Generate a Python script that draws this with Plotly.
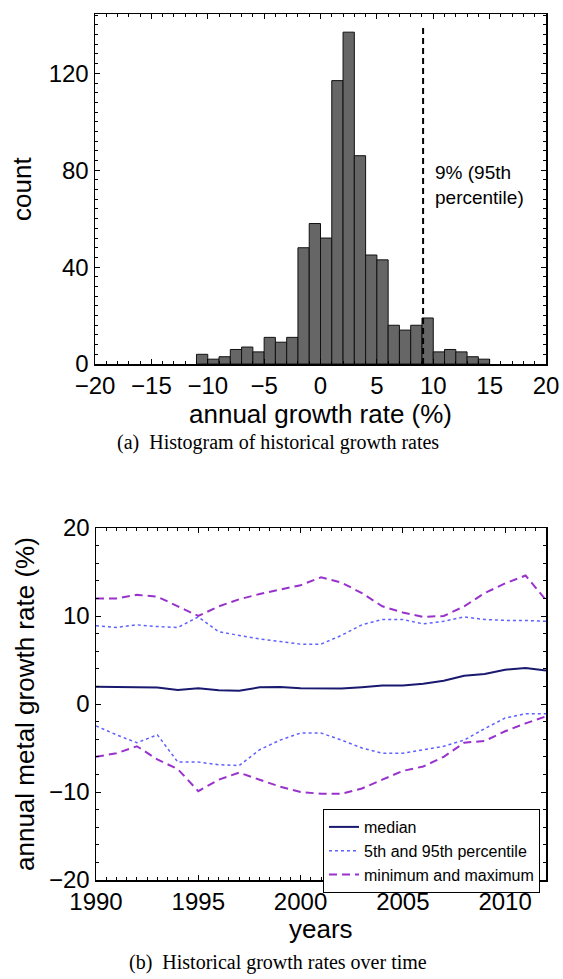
import plotly.graph_objects as go

# ---- histogram data (bins of width 1, from -11 to 15) ----
bin_centers = [-10.5, -9.5, -8.5, -7.5, -6.5, -5.5, -4.5, -3.5, -2.5, -1.5, -0.5, 0.5, 1.5,
               2.5, 3.5, 4.5, 5.5, 6.5, 7.5, 8.5, 9.5, 10.5, 11.5, 12.5, 13.5, 14.5]
counts = [4, 2, 3, 6, 7, 5, 11, 9, 11, 48, 58, 52, 117,
          137, 86, 45, 43, 16, 14, 16, 19, 5, 6, 5, 3, 2]
p95_value = 9.1
p95_line_top = 140

# ---- growth rates over time ----
years = list(range(1990, 2013))
median = [1.97, 1.94, 1.9, 1.88, 1.6, 1.8, 1.55, 1.5, 1.9, 1.94, 1.8, 1.8, 1.75,
          1.9, 2.1, 2.1, 2.3, 2.65, 3.2, 3.4, 3.9, 4.1, 3.8]
p95 = [8.9, 8.7, 9.0, 8.8, 8.7, 9.9, 8.2, 7.8, 7.4, 7.1, 6.8, 6.8, 7.8,
       9.0, 9.6, 9.6, 9.1, 9.4, 9.9, 9.6, 9.5, 9.5, 9.4]
p5 = [-2.5, -3.5, -4.4, -3.5, -6.6, -6.6, -6.9, -7.0, -5.2, -4.1, -3.3, -3.3, -4.1,
      -5.0, -5.6, -5.6, -5.2, -4.8, -4.1, -2.8, -1.6, -1.1, -1.1]
maxv = [12.0, 12.0, 12.4, 12.2, 11.1, 10.0, 11.1, 11.9, 12.5, 13.0, 13.5, 14.4, 13.8,
        12.6, 11.1, 10.4, 9.9, 10.0, 11.1, 12.6, 13.7, 14.6, 11.8]
minv = [-6.0, -5.6, -4.8, -6.3, -7.4, -9.9, -8.6, -7.8, -8.6, -9.4, -10.0, -10.2, -10.2,
        -9.6, -8.6, -7.6, -7.1, -6.0, -4.4, -4.2, -3.1, -2.2, -1.4]

W, H = 563, 979
SANS = "Liberation Sans, Arial, sans-serif"
SERIF = "Liberation Serif, Times New Roman, serif"

def px_x(p):
    return p / W

def px_y(p):
    return 1 - p / H

fig = go.Figure()

fig.add_trace(go.Bar(x=bin_centers, y=counts, width=1.0,
                     marker=dict(color="#666666", line=dict(color="#111111", width=1)),
                     showlegend=False, xaxis="x", yaxis="y", hoverinfo="skip"))
fig.add_trace(go.Scatter(x=[p95_value, p95_value], y=[0, p95_line_top], mode="lines",
                         line=dict(color="black", width=2, dash="6px,4px"),
                         showlegend=False, xaxis="x", yaxis="y", hoverinfo="skip"))

purple = "#9932CC"
dotblue = "#6060FF"
navy = "#191970"

fig.add_trace(go.Scatter(x=years, y=median, mode="lines", name="median",
                         line=dict(color=navy, width=2), xaxis="x2", yaxis="y2"))
fig.add_trace(go.Scatter(x=years, y=p95, mode="lines", name="5th and 95th percentile",
                         legendgroup="pct", line=dict(color=dotblue, width=1.5, dash="dot"),
                         xaxis="x2", yaxis="y2"))
fig.add_trace(go.Scatter(x=years, y=p5, mode="lines", name="5th and 95th percentile",
                         legendgroup="pct", showlegend=False,
                         line=dict(color=dotblue, width=1.5, dash="dot"),
                         xaxis="x2", yaxis="y2"))
fig.add_trace(go.Scatter(x=years, y=maxv, mode="lines", name="minimum and maximum",
                         legendgroup="mm", line=dict(color=purple, width=2, dash="8px,5px"),
                         xaxis="x2", yaxis="y2"))
fig.add_trace(go.Scatter(x=years, y=minv, mode="lines", name="minimum and maximum",
                         legendgroup="mm", showlegend=False,
                         line=dict(color=purple, width=2, dash="8px,5px"),
                         xaxis="x2", yaxis="y2"))

axis_common = dict(showline=True, linecolor="black", linewidth=1.5, mirror="ticks",
                   ticks="inside", ticklen=5, tickcolor="black", tickwidth=1,
                   showgrid=False, zeroline=False,
                   tickfont=dict(family=SANS, size=24, color="black"), automargin=False)

fig.update_layout(
    width=W, height=H,
    margin=dict(l=0, r=0, t=0, b=0),
    paper_bgcolor="white", plot_bgcolor="white",
    barmode="overlay", bargap=0,
    xaxis=dict(domain=[px_x(95), px_x(546)], anchor="y", range=[-20, 20],
               tickvals=[-20, -15, -10, -5, 0, 5, 10, 15, 20],
               minor=dict(ticks="inside", dtick=1, ticklen=3, tickcolor="black"),
               **axis_common),
    yaxis=dict(domain=[px_y(364), px_y(14)], anchor="x", range=[0, 144.5],
               tickvals=[0, 40, 80, 120],
               minor=dict(ticks="inside", dtick=4, ticklen=3, tickcolor="black"),
               **axis_common),
    xaxis2=dict(domain=[px_x(96), px_x(546)], anchor="y2", range=[1990, 2012],
                tickvals=[1990, 1995, 2000, 2005, 2010],
                minor=dict(ticks="inside", dtick=0.5, ticklen=3, tickcolor="black"),
                **axis_common),
    yaxis2=dict(domain=[px_y(880), px_y(528)], anchor="x2", range=[-20, 20],
                tickvals=[-20, -10, 0, 10, 20],
                minor=dict(ticks="inside", dtick=2, ticklen=3, tickcolor="black"),
                **axis_common),
    legend=dict(x=px_x(540), y=px_y(809), xanchor="right", yanchor="top",
                bgcolor="white", bordercolor="black", borderwidth=1,
                font=dict(family=SANS, size=16, color="black"),
                itemwidth=30, tracegroupgap=0),
    showlegend=True,
)

annotations = [
    dict(text="9% (95th<br>percentile)", x=10.0, y=74, xref="x", yref="y",
         xanchor="left", yanchor="middle", align="left", showarrow=False,
         font=dict(family=SANS, size=19, color="black")),
    dict(text="count", x=px_x(22), y=px_y(189), xref="paper", yref="paper",
         textangle=-90, showarrow=False, xanchor="center", yanchor="middle",
         font=dict(family=SANS, size=26, color="black")),
    dict(text="annual growth rate (%)", x=px_x(320), y=px_y(414), xref="paper", yref="paper",
         showarrow=False, xanchor="center", yanchor="middle",
         font=dict(family=SANS, size=26, color="black")),
    dict(text="(a)  Histogram of historical growth rates", x=px_x(278), y=px_y(442),
         xref="paper", yref="paper", showarrow=False, xanchor="center", yanchor="middle",
         font=dict(family=SERIF, size=20, color="black")),
    dict(text="annual metal growth rate (%)", x=px_x(25), y=px_y(704), xref="paper", yref="paper",
         textangle=-90, showarrow=False, xanchor="center", yanchor="middle",
         font=dict(family=SANS, size=26, color="black")),
    dict(text="years", x=px_x(321), y=px_y(929), xref="paper", yref="paper",
         showarrow=False, xanchor="center", yanchor="middle",
         font=dict(family=SANS, size=26, color="black")),
    dict(text="(b)  Historical growth rates over time", x=px_x(278), y=px_y(962),
         xref="paper", yref="paper", showarrow=False, xanchor="center", yanchor="middle",
         font=dict(family=SERIF, size=20, color="black")),
]
fig.update_layout(annotations=annotations)

fig.write_html("out.html",
               config={"displayModeBar": False, "staticPlot": True},
               post_script="document.body.style.margin='0';document.body.style.overflow='hidden';")
